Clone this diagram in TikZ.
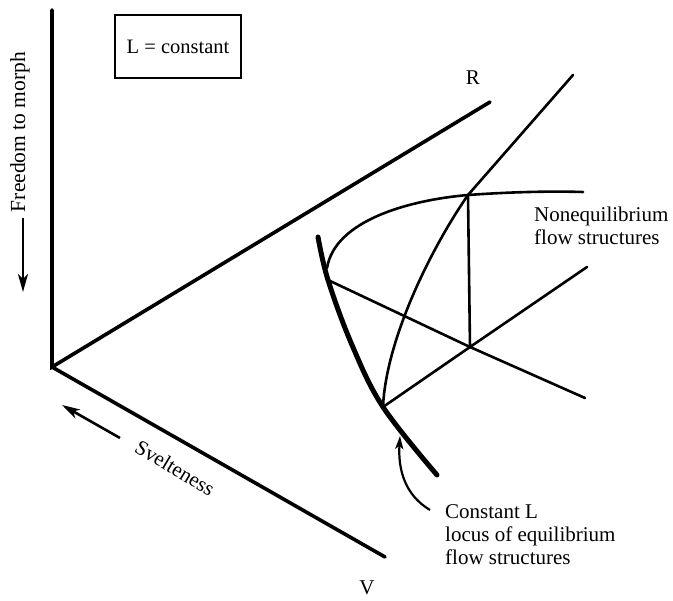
\documentclass[tikz,border=0pt]{standalone}
\usepackage{fontspec}
\setmainfont{Liberation Serif}
\usepackage{tikz}
\usetikzlibrary{arrows.meta, positioning}

\begin{document}
\begin{tikzpicture}[x=1pt, y=-1pt,
  axis/.style={line width=3.6pt, line cap=round},
  web/.style={line width=2.6pt, line cap=round},
  locus/.style={line width=5pt, line cap=round},
  pointer/.style={line width=2.6pt, -{Stealth[length=18pt, width=10pt, inset=5pt]}},
  lbl/.style={font=\fontsize{21}{23}\selectfont, inner sep=0pt, align=left}]
\useasboundingbox (0,0) rectangle (673,601);
% axes
\coordinate (o) at (52,367);
\coordinate (top) at (52,10);
\coordinate (r) at (490,102);
\coordinate (v) at (385,557);
\draw[axis] (top) -- (o) -- (r);
\draw[axis] (o) -- (v);
\node[lbl] (rlab) at (473,78) {R};
\node[lbl] (vlab) at (367,588) {V};
\node[draw, line width=2pt, minimum width=126pt, minimum height=63pt, font=\fontsize{20.5}{24}\selectfont] (box) at (178,46.5) {L = constant};
\node[lbl, font=\fontsize{21.5}{23}\selectfont, rotate=90] (free) at (20,132) {Freedom to morph};
\coordinate (f1) at (23,218);
\coordinate (f2) at (23,292);
\draw[pointer] (f1) -- (f2);
\node[lbl, font=\fontsize{21}{23}\selectfont, rotate=-31] (svel) at (175,468) {Svelteness};
\coordinate (s1) at (120,438);
\coordinate (s2) at (62,405);
\draw[pointer] (s1) -- (s2);
% constant L locus
\coordinate (t) at (318,237);
\coordinate (a) at (328,280);
\coordinate (b) at (383,407);
\coordinate (e) at (437,475);
\draw[locus] plot[smooth, tension=0.6] coordinates {(t) (a) (352,345) (b) (e)};
% nonequilibrium web
\coordinate (a0) at (327,268);
\coordinate (p) at (468,195);
\coordinate (p2) at (583,192);
\coordinate (q) at (470,347);
\coordinate (q1) at (585,398);
\coordinate (q2) at (587,267);
\coordinate (c) at (573,75);
\draw[web] (a0) .. controls (335,220) and (410,200) .. (p) .. controls (510,192) and (550,191) .. (p2);
\draw[web] (a) -- (q) -- (q1);
\draw[web] (b) -- (q) -- (q2);
\draw[web] (p) -- (q);
\draw[web] (b) .. controls (386,340) and (430,250) .. (p) -- (c);
\node[lbl, anchor=west] (noneq) at (534,226) {Nonequilibrium\\flow structures};
\node[lbl, anchor=west] (eq) at (445,535) {Constant L\\locus of equilibrium\\flow structures};
\coordinate (k1) at (430,510);
\coordinate (k2) at (400,436);
\draw[line width=2.2pt, -{Stealth[length=13pt, width=8pt, inset=3pt]}] (k1) .. controls (405,495) and (398,470) .. (k2);
\end{tikzpicture}
\end{document}
